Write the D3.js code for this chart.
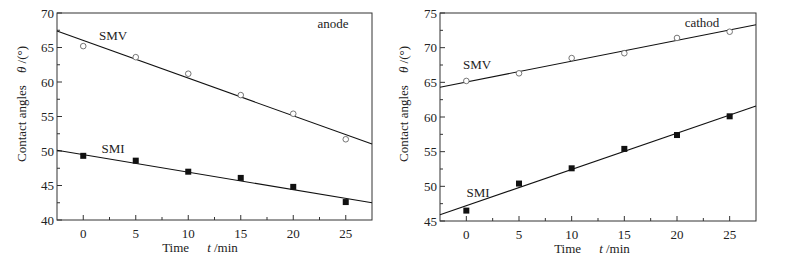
<!DOCTYPE html>
<html>
<head>
<meta charset="utf-8">
<script src="https://cdn.jsdelivr.net/npm/d3@7"></script>
<style>
  body { margin: 0; background: #fff; }
  svg { font-family: "Liberation Serif", "Times New Roman", serif; }
  .tick-lbl { font-size: 13px; fill: #222; }
  .lbl { font-size: 13px; fill: #222; }
</style>
</head>
<body>
<svg id="chart" width="790" height="266"></svg>
<script>
// ---- data ----
const times = [0, 5, 10, 15, 20, 25];
const xTicks = [0, 5, 10, 15, 20, 25];

const anodeSMV = [65.2, 63.6, 61.2, 58.1, 55.4, 51.7];
const anodeSMI = [49.3, 48.6, 47.0, 46.1, 44.8, 42.6];
const anodeFitSMV = [[-2.5, 67.4], [27.5, 51.0]];
const anodeFitSMI = [[-2.5, 50.1], [27.5, 42.5]];
const anodeYTicks = [40, 45, 50, 55, 60, 65, 70];

const cathodSMV = [65.2, 66.3, 68.5, 69.2, 71.4, 72.3];
const cathodSMI = [46.5, 50.4, 52.6, 55.4, 57.4, 60.1];
const cathodFitSMV = [[-2.5, 64.3], [27.5, 73.3]];
const cathodFitSMI = [[-2.5, 45.9], [27.5, 61.6]];
const cathodYTicks = [45, 50, 55, 60, 65, 70, 75];

const svg = d3.select('#chart');

function panel(opt) {
  const g = svg.append('g');
  const x = d3.scaleLinear().domain([-2.5, 27.5]).range([opt.left, opt.right]);
  const y = d3.scaleLinear().domain(opt.yDomain).range([opt.bottom, opt.top]);

  // frame
  g.append('rect')
    .attr('x', opt.left).attr('y', opt.top)
    .attr('width', opt.right - opt.left).attr('height', opt.bottom - opt.top)
    .attr('fill', 'none').attr('stroke', '#333').attr('stroke-width', 1);

  // x ticks (inward), majors + minors
  const xMinor = xTicks.map(t => t + 2.5).filter(t => t < 27.5);
  g.selectAll('.xt').data(xTicks).join('line')
    .attr('x1', d => x(d)).attr('x2', d => x(d))
    .attr('y1', opt.bottom).attr('y2', opt.bottom - 5)
    .attr('stroke', '#333');
  g.selectAll('.xm').data(xMinor).join('line')
    .attr('x1', d => x(d)).attr('x2', d => x(d))
    .attr('y1', opt.bottom).attr('y2', opt.bottom - 3)
    .attr('stroke', '#333');
  g.selectAll('.xl').data(xTicks).join('text')
    .attr('class', 'tick-lbl')
    .attr('x', d => x(d)).attr('y', opt.bottom + 18)
    .attr('text-anchor', 'middle').text(d => d);

  // y ticks
  const yt = opt.yTicks;
  const yMinor = yt.slice(0, -1).map(t => t + 2.5);
  g.selectAll('.yt').data(yt).join('line')
    .attr('x1', opt.left).attr('x2', opt.left + 5)
    .attr('y1', d => y(d)).attr('y2', d => y(d))
    .attr('stroke', '#333');
  g.selectAll('.ym').data(yMinor).join('line')
    .attr('x1', opt.left).attr('x2', opt.left + 3)
    .attr('y1', d => y(d)).attr('y2', d => y(d))
    .attr('stroke', '#333');
  g.selectAll('.yl').data(yt).join('text')
    .attr('class', 'tick-lbl')
    .attr('x', opt.left - 3).attr('y', d => y(d) + 4.5)
    .attr('text-anchor', 'end').text(d => d);

  // axis titles
  const xt = g.append('text').attr('class', 'lbl')
    .attr('x', opt.xTitleX).attr('y', opt.bottom + 32).attr('text-anchor', 'middle');
  xt.append('tspan').text('Time');
  xt.append('tspan').attr('dx', 18).attr('font-style', 'italic').text('t');
  xt.append('tspan').text(' /min');

  const ytl = g.append('text').attr('class', 'lbl')
    .attr('transform', `translate(${opt.yTitleX},104) rotate(-90)`)
    .attr('text-anchor', 'middle');
  ytl.append('tspan').text('Contact angles');
  ytl.append('tspan').attr('dx', 12).attr('font-style', 'italic').text('θ');
  ytl.append('tspan').text(' /(°)');

  // fit lines
  const line = d3.line().x(d => x(d[0])).y(d => y(d[1]));
  [opt.fitSMV, opt.fitSMI].forEach(f => {
    g.append('path').attr('d', line(f))
      .attr('fill', 'none').attr('stroke', '#111').attr('stroke-width', 1.1);
  });

  // markers
  g.selectAll('.smv').data(opt.smv).join('circle')
    .attr('cx', (d, i) => x(times[i])).attr('cy', d => y(d)).attr('r', 2.8)
    .attr('fill', '#fff').attr('stroke', '#666').attr('stroke-width', 0.9);
  g.selectAll('.smi').data(opt.smi).join('rect')
    .attr('x', (d, i) => x(times[i]) - 3).attr('y', d => y(d) - 3)
    .attr('width', 6).attr('height', 6).attr('fill', '#111');

  // in-plot labels
  opt.texts.forEach(t => {
    g.append('text').attr('class', 'lbl')
      .attr('x', t.x).attr('y', t.y).attr('text-anchor', 'middle').text(t.s);
  });
}

panel({
  left: 57, right: 372, top: 13, bottom: 220,
  yDomain: [40, 70], yTicks: anodeYTicks,
  smv: anodeSMV, smi: anodeSMI, fitSMV: anodeFitSMV, fitSMI: anodeFitSMI,
  xTitleX: 200, yTitleX: 26,
  texts: [{ s: 'SMV', x: 113, y: 40 }, { s: 'SMI', x: 113, y: 153 }, { s: 'anode', x: 333, y: 28 }]
});

panel({
  left: 440, right: 756, top: 13, bottom: 221,
  yDomain: [45, 75], yTicks: cathodYTicks,
  smv: cathodSMV, smi: cathodSMI, fitSMV: cathodFitSMV, fitSMI: cathodFitSMI,
  xTitleX: 592, yTitleX: 408,
  texts: [{ s: 'SMV', x: 477, y: 69 }, { s: 'SMI', x: 478, y: 197 }, { s: 'cathod', x: 702, y: 27 }]
});
</script>
</body>
</html>
